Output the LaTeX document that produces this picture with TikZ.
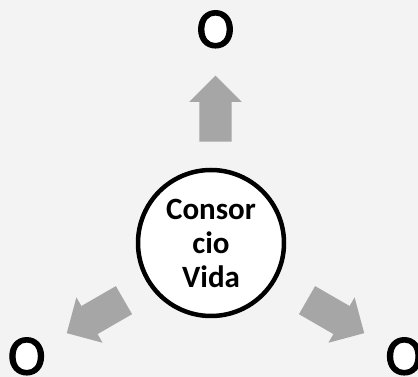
\documentclass[tikz,border=0pt]{standalone}
\usepackage{fontspec}
\setmainfont{Carlito}
\newfontfamily\ringfont[FakeBold=2]{Carlito}
\usetikzlibrary{shapes.arrows}
\definecolor{backgray}{HTML}{F3F3F3}
\definecolor{arrowgray}{HTML}{A6A6A6}

\begin{document}
\begin{tikzpicture}[x=1pt,y=1pt,
  growarrow/.style={single arrow, fill=arrowgray, inner xsep=0pt, inner ysep=16pt,
    minimum height=66pt, single arrow head extend=10pt, anchor=tail},
  ringlabel/.style={font=\ringfont\fontsize{57}{57}\selectfont, inner sep=0pt}]
\fill[backgray] (0,0) rectangle (418,377); % background
\useasboundingbox (0,0) rectangle (418,377);

\coordinate (hub) at (215.5,129.7); % middle of the three arrows

\node[circle, draw, line width=4.5pt, fill=white, minimum size=146pt, inner sep=0pt,
  align=center, font=\bfseries\fontsize{31}{34}\selectfont] (vida) at (211,134) {Consor\\cio\\Vida};

\node[growarrow, rotate=90] (upgrow) at ([shift={(90:105.5)}]hub) {}; % up
\node[growarrow, rotate=210] (leftgrow) at ([shift={(210:105.5)}]hub) {}; % down left
\node[growarrow, rotate=330] (rightgrow) at ([shift={(330:105.5)}]hub) {}; % down right

\fill[white] ([shift={(90:218)}]hub) ellipse (11 and 14);
\node[ringlabel] (topring) at ([shift={(90:218)}]hub) {O};
\fill[white] ([shift={(210:218)}]hub) ellipse (11 and 14);
\node[ringlabel] (leftring) at ([shift={(210:218)}]hub) {O};
\fill[white] ([shift={(330:218)}]hub) ellipse (11 and 14);
\node[ringlabel] (rightring) at ([shift={(330:218)}]hub) {O};

\end{tikzpicture}
\end{document}
